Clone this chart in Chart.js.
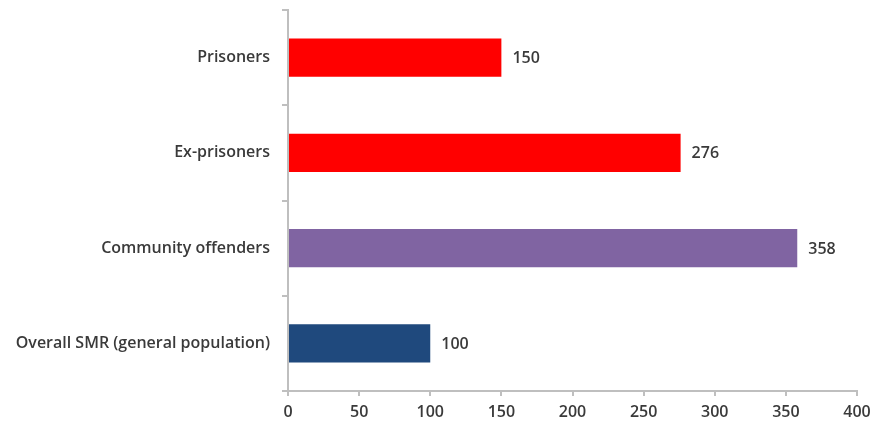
<!DOCTYPE html>
<html lang="en">
<head>
    <meta charset="UTF-8">
    <title>Standardised mortality ratios</title>
    <script src="https://cdn.jsdelivr.net/npm/chart.js"></script>
    <style>
        html, body { margin: 0; padding: 0; background: #fff; }
        #wrap { width: 873px; height: 428px; }
    </style>
</head>
<body>
    <div id="wrap"><canvas id="smrChart" width="873" height="428"></canvas></div>

    <script>
        // SMR by group
        const categories = ['Prisoners', 'Ex-prisoners', 'Community offenders', 'Overall SMR (general population)'];
        const smrValues = [150, 276, 358, 100];
        const barColours = ['#ff0000', '#ff0000', '#8064a2', '#1f497d'];
        const xTicks = [0, 50, 100, 150, 200, 250, 300, 350, 400];

        const textColour = '#3a3a3a';
        const axisColour = '#bfbfbf';
        const labelFont = { family: "'Open Sans', 'Liberation Sans', sans-serif", size: 16, weight: '600' };

        // write the value just past the end of each bar
        const valueLabels = {
            id: 'valueLabels',
            afterDatasetsDraw(chart) {
                const ctx = chart.ctx;
                const meta = chart.getDatasetMeta(0);
                ctx.save();
                ctx.font = labelFont.weight + ' ' + labelFont.size + 'px ' + labelFont.family;
                ctx.fillStyle = textColour;
                ctx.textBaseline = 'middle';
                ctx.textAlign = 'left';
                meta.data.forEach((bar, i) => {
                    ctx.fillText(String(smrValues[i]), bar.x + 11, bar.y + 1);
                });
                ctx.restore();
            }
        };

        new Chart(document.getElementById('smrChart'), {
            type: 'bar',
            data: {
                labels: categories,
                datasets: [{
                    data: smrValues,
                    backgroundColor: barColours,
                    borderWidth: 0,
                    barPercentage: 0.5,
                    categoryPercentage: 0.8
                }]
            },
            options: {
                indexAxis: 'y',
                responsive: false,
                animation: false,
                layout: { padding: { top: 10, right: 16, left: 0, bottom: 0 } },
                plugins: {
                    legend: { display: false },
                    tooltip: { enabled: false }
                },
                scales: {
                    x: {
                        min: 0,
                        max: 400,
                        afterBuildTicks(scale) {
                            scale.ticks = xTicks.map(v => ({ value: v }));
                        },
                        afterFit(scale) {
                            scale.height = 37;
                            scale.paddingLeft = 0;
                            scale.paddingRight = 0;
                        },
                        grid: {
                            drawOnChartArea: false,
                            drawTicks: true,
                            tickLength: 5,
                            color: axisColour,
                            lineWidth: 2
                        },
                        border: { color: axisColour, width: 2 },
                        ticks: {
                            color: textColour,
                            font: labelFont,
                            padding: 7,
                            maxRotation: 0
                        }
                    },
                    y: {
                        afterFit(scale) {
                            scale.width = 288;
                            scale.paddingTop = 0;
                            scale.paddingBottom = 0;
                        },
                        grid: {
                            drawOnChartArea: false,
                            drawTicks: true,
                            tickLength: 6,
                            offset: true,
                            color: axisColour,
                            lineWidth: 2
                        },
                        border: { color: axisColour, width: 2 },
                        ticks: {
                            color: textColour,
                            font: labelFont,
                            padding: 12
                        }
                    }
                }
            },
            plugins: [valueLabels]
        });
    </script>
</body>
</html>
